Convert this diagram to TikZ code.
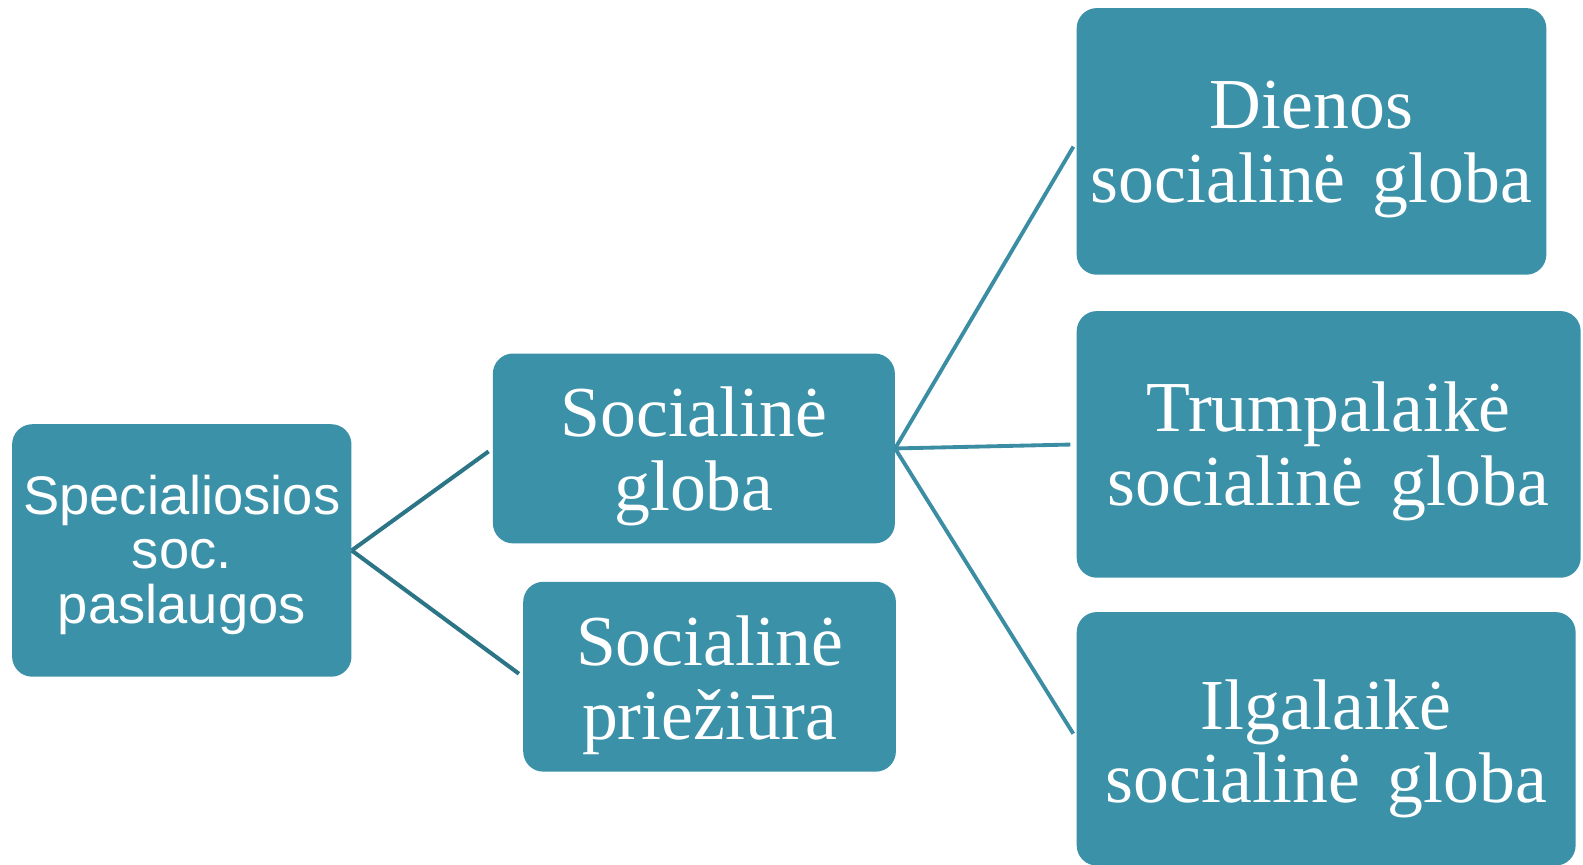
\documentclass[tikz,border=0pt]{standalone}
\usepackage{fontspec}
\setmainfont{Liberation Serif}
\setsansfont{Liberation Sans}
\definecolor{boxfill}{RGB}{59,145,168}
\definecolor{leftline}{RGB}{44,117,134}
\definecolor{rightline}{RGB}{58,141,163}
\begin{document}
\begin{tikzpicture}[x=1pt, y=-1pt,
  box/.style = {fill=boxfill, rounded corners=20pt, text=white, inner sep=0pt, align=center,
                text depth=0pt, font=\fontsize{71}{73}\selectfont},
  sansbox/.style = {box, font=\sffamily\fontsize{53.8}{54}\selectfont},
  leftlink/.style = {draw=leftline, line width=4pt},
  rightlink/.style = {draw=rightline, line width=3.8pt}]
\useasboundingbox (0,0) rectangle (1567.3,856.4);

\node[sansbox, minimum width=336pt, minimum height=250pt, text height=144pt] (spec) at (180,545) {Specialiosios\\soc.\\paslaugos};
\node[box, minimum width=398pt, minimum height=188pt, text height=122pt] (globa) at (687,444) {Socialinė\\globa};
\node[box, minimum width=369pt, minimum height=188pt, text height=124pt] (priez) at (702.5,670) {Socialinė\\priežiūra};
\node[box, minimum width=465pt, minimum height=264pt, text height=120pt] (dienos) at (1298.5,140) {Dienos\\socialinė\hspace{0.38em}globa};
\node[box, minimum width=499pt, minimum height=264pt, text height=120pt] (trump) at (1315.5,440) {Trumpalaikė\\socialinė\hspace{0.38em}globa};
\node[box, minimum width=494pt, minimum height=251pt, text height=127pt] (ilgal) at (1313,731.5) {Ilgalaikė\\socialinė\hspace{0.38em}globa};

\draw[leftlink, shorten >=5pt] (spec.east) -- (globa.west);
\draw[leftlink, shorten >=5pt] (spec.east) -- (priez.west);
\draw[rightlink, shorten >=6pt] (globa.east) -- (dienos.west);
\draw[rightlink, shorten >=6pt] (globa.east) -- (trump.west);
\draw[rightlink, shorten >=6pt] (globa.east) -- (ilgal.west);
\end{tikzpicture}
\end{document}
